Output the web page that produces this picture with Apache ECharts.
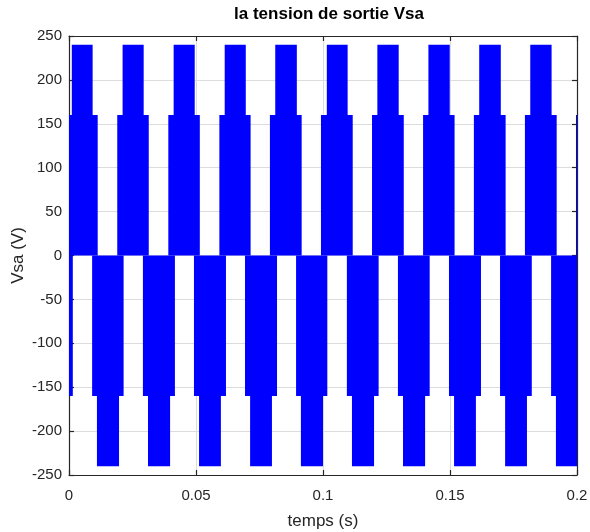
<!DOCTYPE html>
<html>
<head>
<meta charset="utf-8">
<script src="https://cdn.jsdelivr.net/npm/echarts@6/dist/echarts.min.js"></script>
<style>html,body{margin:0;padding:0;background:#fff}#c{width:590px;height:532px}</style>
</head>
<body>
<div id="c"></div>
<script>
// Time intervals [start, end] (s), per voltage band
const posInnerBands = [[0,0.0113],[0.0190,0.0314],[0.0391,0.0515],[0.0592,0.0715],[0.0791,0.0916],[0.0992,0.1117],[0.1193,0.1318],[0.1394,0.1518],[0.1594,0.1719],[0.1795,0.1920],[0.1996,0.2]];
const posOuterBands = [[0.0011,0.0093],[0.0211,0.0294],[0.0412,0.0495],[0.0613,0.0696],[0.0812,0.0897],[0.1015,0.1097],[0.1214,0.1298],[0.1415,0.1499],[0.1615,0.1700],[0.1816,0.1900]];
const negInnerBands = [[0,0.0015],[0.0091,0.0215],[0.0291,0.0417],[0.0492,0.0618],[0.0693,0.0819],[0.0894,0.1017],[0.1094,0.1219],[0.1295,0.1420],[0.1496,0.1622],[0.1697,0.1822],[0.1898,0.2]];
const negOuterBands = [[0.0110,0.0197],[0.0311,0.0398],[0.0512,0.0598],[0.0713,0.0799],[0.0913,0.1000],[0.1114,0.1201],[0.1315,0.1402],[0.1516,0.1602],[0.1717,0.1803],[0.1917,0.2]];
// Voltage levels (V) of each band: [low, high]
const posInnerLevel = [0, 160];
const posOuterLevel = [160, 240];
const negInnerLevel = [-160, 0];
const negOuterLevel = [-240, -160];
const xTicks = [0, 0.05, 0.1, 0.15, 0.2];
const yTicks = [-250, -200, -150, -100, -50, 0, 50, 100, 150, 200, 250];

function toRects(bands, level) {
  return bands.map(b => [b[0], b[1], level[0], level[1]]);
}
const rects = [].concat(
  toRects(posInnerBands, posInnerLevel),
  toRects(posOuterBands, posOuterLevel),
  toRects(negInnerBands, negInnerLevel),
  toRects(negOuterBands, negOuterLevel)
);

const chart = echarts.init(document.getElementById('c'), null, {renderer: 'canvas'});
const font = 'Liberation Sans, Arial, Helvetica, sans-serif';
const txt = '#262626';
const axisCommon = {
  axisLine: {show: true, onZero: false, lineStyle: {color: '#262626', width: 1.2}},
  axisTick: {show: true, inside: true, length: 5, lineStyle: {color: '#262626', width: 1.2}},
};
chart.setOption({
  animation: false,
  backgroundColor: '#fff',
  title: {
    text: 'la tension de sortie Vsa', left: 324, top: 1, textAlign: 'center',
    textStyle: {fontFamily: font, fontSize: 17, fontWeight: 'bold', color: '#000'}
  },
  grid: {left: 69, right: 13, top: 36, bottom: 57, containLabel: false, outerBoundsMode: 'none'},
  xAxis: [{
    type: 'value', min: xTicks[0], max: xTicks[xTicks.length - 1], interval: 0.05, position: 'bottom',
    name: 'temps (s)', nameLocation: 'middle', nameGap: 38, nameMoveOverlap: false,
    nameTextStyle: {fontFamily: font, fontSize: 17, color: txt},
    axisLabel: {fontFamily: font, fontSize: 15, color: txt, margin: 13,
      formatter: v => String(parseFloat(v.toFixed(2)))},
    splitLine: {show: true, lineStyle: {color: '#dcdcdc', width: 1}},
    ...axisCommon
  }, {
    type: 'value', min: xTicks[0], max: xTicks[xTicks.length - 1], interval: 0.05, position: 'top',
    axisLabel: {show: false}, splitLine: {show: false},
    ...axisCommon
  }],
  yAxis: [{
    type: 'value', min: yTicks[0], max: yTicks[yTicks.length - 1], interval: 50, position: 'left',
    name: 'Vsa (V)', nameLocation: 'middle', nameGap: 42, nameRotate: 90, nameMoveOverlap: false,
    nameTextStyle: {fontFamily: font, fontSize: 17, color: txt},
    axisLabel: {fontFamily: font, fontSize: 15, color: txt, margin: 7},
    splitLine: {show: true, lineStyle: {color: '#dcdcdc', width: 1}},
    ...axisCommon
  }, {
    type: 'value', min: yTicks[0], max: yTicks[yTicks.length - 1], interval: 50, position: 'right',
    axisLabel: {show: false}, splitLine: {show: false},
    ...axisCommon
  }],
  series: [{
    type: 'custom',
    xAxisIndex: 0, yAxisIndex: 0,
    data: rects,
    encode: {x: [0, 1], y: [2, 3]},
    renderItem: function (params, api) {
      const p0 = api.coord([api.value(0), api.value(3)]);
      const p1 = api.coord([api.value(1), api.value(2)]);
      const shape = echarts.graphic.clipRectByRect(
        {x: p0[0], y: p0[1], width: p1[0] - p0[0], height: p1[1] - p0[1]},
        {x: params.coordSys.x, y: params.coordSys.y, width: params.coordSys.width, height: params.coordSys.height}
      );
      return shape && {type: 'rect', shape: shape, style: {fill: '#0000ff', stroke: null}};
    }
  }]
});
</script>
</body>
</html>
